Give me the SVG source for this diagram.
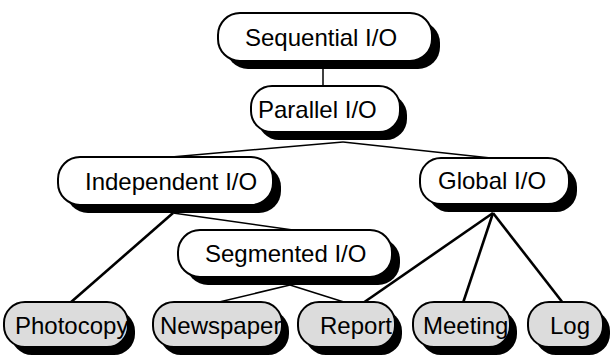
<svg xmlns="http://www.w3.org/2000/svg" width="613" height="356" viewBox="0 0 613 356">
<style>
.shadow{fill:#000}
.box{fill:#fff;stroke:#000;stroke-width:2}
.leaf .box{fill:#dcdcdc}
text{font-family:"Liberation Sans",Arial,sans-serif;font-size:24px;fill:#000}
.thin{stroke:#000;stroke-width:1.5;fill:none}
.thick{stroke:#000;stroke-width:2.6;fill:none}
</style>
<rect width="613" height="356" fill="#fff"/>
<g id="connectors">
<line class="thin" x1="323" y1="62" x2="323" y2="86"/>
<line class="thin" x1="343" y1="142" x2="160" y2="158"/>
<line class="thin" x1="343" y1="142" x2="500" y2="159"/>
<line class="thick" x1="173" y1="213" x2="70" y2="303"/>
<line class="thin" x1="173" y1="213" x2="300" y2="231"/>
<line class="thin" x1="290" y1="285" x2="215" y2="303"/>
<line class="thin" x1="290" y1="285" x2="347" y2="303"/>
<line class="thick" x1="493" y1="213" x2="363" y2="303"/>
<line class="thick" x1="493" y1="213" x2="463" y2="303"/>
<line class="thick" x1="493" y1="213" x2="563" y2="303"/>
</g>
<g id="sequential">
<rect class="shadow" x="226" y="21" width="214" height="48" rx="22"/>
<rect class="box" x="218" y="13" width="214" height="48" rx="22"/>
<text x="245" y="46">Sequential I/O</text>
</g>
<g id="parallel">
<rect class="shadow" x="258" y="94" width="149" height="46" rx="21"/>
<rect class="box" x="251" y="86" width="149" height="46" rx="21"/>
<text x="258" y="118">Parallel I/O</text>
</g>
<g id="independent">
<rect class="shadow" x="66" y="165" width="215" height="48" rx="22"/>
<rect class="box" x="58" y="157" width="215" height="48" rx="22"/>
<text x="85" y="190">Independent I/O</text>
</g>
<g id="global">
<rect class="shadow" x="428" y="166" width="149" height="46" rx="21"/>
<rect class="box" x="420" y="158" width="149" height="46" rx="21"/>
<text x="438" y="189">Global I/O</text>
</g>
<g id="segmented">
<rect class="shadow" x="186" y="238" width="214" height="47" rx="22"/>
<rect class="box" x="178" y="230" width="214" height="47" rx="22"/>
<text x="205" y="262">Segmented I/O</text>
</g>
<g id="photocopy" class="leaf">
<rect class="shadow" x="11" y="310" width="124" height="45" rx="21"/>
<rect class="box" x="4" y="302" width="124" height="45" rx="21"/>
<text x="15" y="334">Photocopy</text>
</g>
<g id="newspaper" class="leaf">
<rect class="shadow" x="160" y="310" width="129" height="45" rx="21"/>
<rect class="box" x="153" y="302" width="129" height="45" rx="21"/>
<text x="160" y="334">Newspaper</text>
</g>
<g id="report" class="leaf">
<rect class="shadow" x="305" y="310" width="97" height="45" rx="21"/>
<rect class="box" x="298" y="302" width="97" height="45" rx="21"/>
<text x="320" y="334">Report</text>
</g>
<g id="meeting" class="leaf">
<rect class="shadow" x="420" y="310" width="97" height="45" rx="21"/>
<rect class="box" x="413" y="302" width="97" height="45" rx="21"/>
<text x="423" y="334">Meeting</text>
</g>
<g id="log" class="leaf">
<rect class="shadow" x="535" y="310" width="75" height="45" rx="21"/>
<rect class="box" x="528" y="302" width="75" height="45" rx="21"/>
<text x="550" y="334">Log</text>
</g>
</svg>
